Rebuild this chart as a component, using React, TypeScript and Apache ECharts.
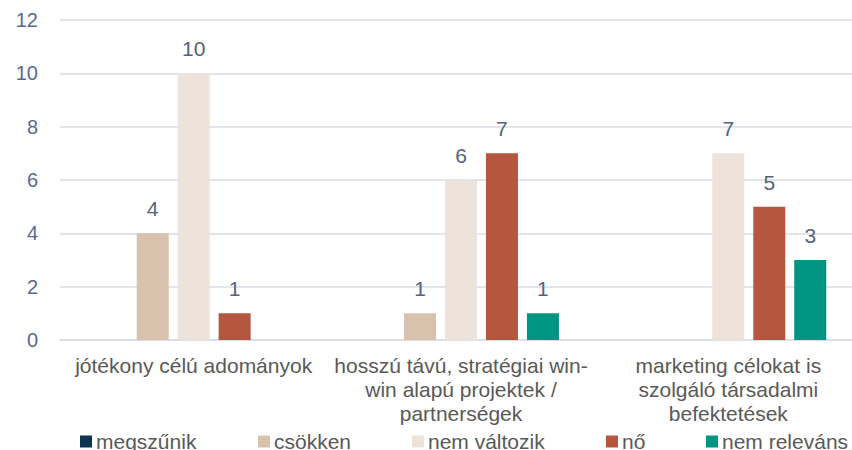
import React, { useEffect, useRef } from "react";
import * as echarts from "echarts";

const categories = [
  "jótékony célú adományok",
  "hosszú távú, stratégiai win-\nwin alapú projektek /\npartnerségek",
  "marketing célokat is\nszolgáló társadalmi\nbefektetések",
];
const seriesNames = ["megszűnik", "csökken", "nem változik", "nő", "nem releváns"];
const megszunik = [null, null, null];
const csokken = [4, 1, null];
const nemValtozik = [10, 6, 7];
const no = [1, 7, 5];
const nemRelevans = [null, 1, 3];
const colors = ["#0B3551", "#D8C2AE", "#EDE3DA", "#B5563F", "#009483"];
const legendLefts = [80, 258, 412, 606, 706];

export default function App() {
  const ref = useRef<HTMLDivElement>(null);
  useEffect(() => {
    if (!ref.current) return;
    const chart = echarts.init(ref.current, null, { renderer: "svg" });
    const values = [megszunik, csokken, nemValtozik, no, nemRelevans];
    const font = "'Liberation Sans', Arial, Helvetica, sans-serif";
    chart.setOption({
      animation: false,
      textStyle: { fontFamily: font },
      grid: {
        left: 60,
        right: -10,
        top: 20,
        bottom: 110,
        containLabel: false,
        outerBoundsMode: "none",
      },
      legend: seriesNames.map((n, i) => ({
        data: [n],
        left: legendLefts[i],
        top: 431,
        itemWidth: 12,
        itemHeight: 12,
        itemGap: 4,
        padding: 0,
        icon: "rect",
        textStyle: { fontSize: 21, color: "#595959", fontFamily: font, padding: [0, 0, 0, -1] },
      })),
      xAxis: {
        type: "category",
        data: categories,
        axisTick: { show: false },
        axisLine: { lineStyle: { color: "#D9DCE6", width: 1.5 } },
        axisLabel: {
          interval: 0,
          fontSize: 21,
          lineHeight: 24,
          color: "#595959",
          margin: 13,
          fontFamily: font,
          align: "center",
        },
      },
      yAxis: {
        type: "value",
        min: 0,
        max: 12,
        interval: 2,
        axisLine: { show: false },
        axisTick: { show: false },
        splitLine: { lineStyle: { color: "#D9DCE6", width: 1.5 } },
        axisLabel: { fontSize: 20, color: "#5A6994", margin: 22, fontFamily: font },
      },
      series: seriesNames.map((n, i) => ({
        name: n,
        type: "bar",
        data: values[i],
        barWidth: 32,
        barGap: "28%",
        itemStyle: { color: colors[i] },
        label: {
          show: true,
          position: "top",
          distance: 14,
          fontSize: 21,
          color: "#56627F",
          fontFamily: font,
        },
      })),
    });
    return () => chart.dispose();
  }, []);
  return (
    <div
      ref={ref}
      style={{ position: "absolute", left: 0, top: 0, width: 852, height: 450, background: "#fff" }}
    />
  );
}
